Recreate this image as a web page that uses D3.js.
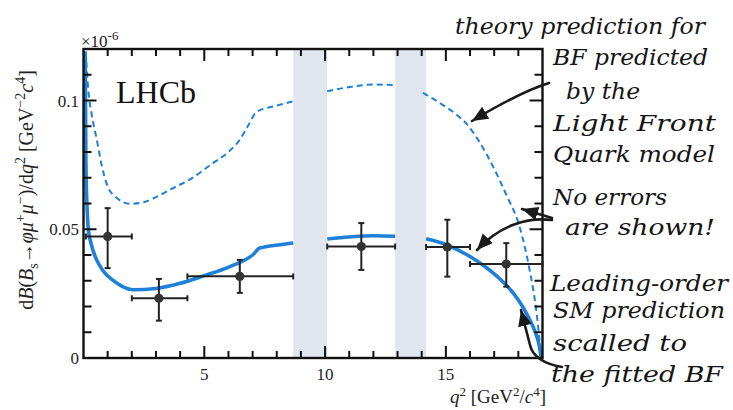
<!DOCTYPE html>
<html><head><meta charset="utf-8">
<script src="https://cdn.jsdelivr.net/npm/d3@7"></script>
<style>body{margin:0;background:#fff}svg{display:block}</style>
</head><body>
<svg id="c" width="733" height="410"></svg>
<script>
// ---------- data ----------
const binLo   = [0.1, 2.0, 4.3, 10.09, 14.18, 16.0];
const binHi   = [2.0, 4.3, 8.68, 12.9, 16.0, 19.0];
const binX    = [1.0, 3.12, 6.47, 11.5, 15.06, 17.5];
const dataVal = [0.0472, 0.0232, 0.0317, 0.0433, 0.0431, 0.0365];
const errUp   = [0.0110, 0.0075, 0.0064, 0.0091, 0.0106, 0.0081];
const errDn   = [0.0123, 0.0087, 0.0064, 0.0091, 0.0115, 0.0088];

const vetoLo = [8.68, 12.9];
const vetoHi = [10.09, 14.18];

// leading-order SM prediction (solid), null = gap in veto region
const smQ2  = [0.07,0.1,0.15,0.2,0.3,0.55,0.8,1.2,1.6,2.05,3.0,4.0,5.0,6.06,7.0,7.3,8.13,8.68, null,
               10.09,11.0,12.0,12.9, null,
               14.18,15.02,16.0,16.5,17.0,17.5,18.0,18.4,18.7,18.85,18.95];
const smVal = [0.119,0.075,0.058,0.050,0.045,0.038,0.034,0.0303,0.0278,0.0265,0.027,0.029,0.032,0.0355,0.040,0.0427,0.044,0.0447, null,
               0.0462,0.0470,0.0475,0.0473, null,
               0.0463,0.0440,0.0394,0.0363,0.0327,0.0283,0.0225,0.0162,0.0100,0.0055,0.0];

// Light Front Quark model prediction (dashed)
const lfQ2  = [0.09,0.2,0.35,0.55,0.75,1.0,1.4,1.92,2.5,3.0,3.71,4.4,5.37,6.0,6.47,6.8,7.16,8.0,8.68, null,
               10.09,11.0,12.0,12.9, null,
               14.05,14.74,15.43,15.85,16.33,16.95,17.5,18.05,18.47,18.74,18.95];
const lfVal = [0.119,0.104,0.094,0.0848,0.075,0.0667,0.062,0.0599,0.0605,0.0625,0.066,0.0693,0.0758,0.080,0.0848,0.090,0.0955,0.098,0.0997, null,
               0.1036,0.1052,0.1062,0.1060, null,
               0.1030,0.0991,0.0946,0.0910,0.0848,0.0744,0.0634,0.051,0.034,0.0187,0.0];

const xMajor = [5, 10, 15];
const yMajor = [0, 0.05, 0.1];
const yMajorLabels = ["0", "0.05", "0.1"];

// ---------- layout ----------
const L = 83.5, R = 542.5, T = 49, B = 358;
const svg = d3.select("#c");
const x = d3.scaleLinear().domain([0, 19]).range([L, R]);
const y = d3.scaleLinear().domain([0, 0.12]).range([B, T]);
const blue = "#1f80d8";
const serif = "'Liberation Serif','Times New Roman',serif";
const hand = "'DejaVu Serif',serif";
const defs = svg.append("defs");

// veto bands
svg.append("g").selectAll("rect").data(vetoLo).join("rect")
  .attr("x",(d)=>x(d)).attr("y",T+1)
  .attr("width",(d,i)=>x(vetoHi[i])-x(d)).attr("height",B-T-2)
  .attr("fill","#e1e5ee");

// curves
const mk = (qs, vs) => qs.map((q,i)=>({q, v: vs[i]}));
const line = d3.line().defined(d=>d.q!==null && d.v!==null)
  .x(d=>x(d.q)).y(d=>y(d.v)).curve(d3.curveMonotoneX);
svg.append("path").attr("d", line(mk(lfQ2, lfVal)))
  .attr("fill","none").attr("stroke",blue).attr("stroke-width",2)
  .attr("stroke-dasharray","6,4");
svg.append("path").attr("d", line(mk(smQ2, smVal)))
  .attr("fill","none").attr("stroke",blue).attr("stroke-width",3.6);

// frame
svg.append("rect").attr("x",L).attr("y",T).attr("width",R-L).attr("height",B-T)
  .attr("fill","none").attr("stroke","#111").attr("stroke-width",2.4);

// ticks (inward, on all four sides) drawn as thin filled rectangles
const xMinor = d3.range(1,19).filter(v=>v%5!==0);
const yMinor = d3.range(1,12).map(v=>v/100).filter(v=>Math.abs(v-0.05)>1e-9 && Math.abs(v-0.1)>1e-9);
const xTicks = xMajor.map(v=>({v,len:12})).concat(xMinor.map(v=>({v,len:7})));
const yTicks = yMajor.slice(1).map(v=>({v,len:13})).concat(yMinor.map(v=>({v,len:8})));
const tk = svg.append("g").attr("fill","#111").attr("stroke","none");
tk.selectAll(".tb").data(xTicks).join("rect").attr("class","tb")
  .attr("x",d=>x(d.v)-1).attr("y",d=>B-d.len).attr("width",2).attr("height",d=>d.len);
tk.selectAll(".tt").data(xTicks).join("rect").attr("class","tt")
  .attr("x",d=>x(d.v)-1).attr("y",T).attr("width",2).attr("height",d=>d.len);
tk.selectAll(".tl").data(yTicks).join("rect").attr("class","tl")
  .attr("x",L).attr("y",d=>y(d.v)-1).attr("width",d=>d.len).attr("height",2);
tk.selectAll(".tr").data(yTicks).join("rect").attr("class","tr")
  .attr("x",d=>R-d.len).attr("y",d=>y(d.v)-1).attr("width",d=>d.len).attr("height",2);

// tick labels
svg.append("g").selectAll("text").data(xMajor).join("text")
  .attr("x",d=>x(d)).attr("y",380).attr("text-anchor","middle")
  .attr("font-family",serif).attr("font-size",17).attr("fill","#222").text(d=>d);
svg.append("g").selectAll("text").data(yMajor).join("text")
  .attr("x",79).attr("y",d=>y(d)).attr("dy","0.36em").attr("text-anchor","end")
  .attr("font-family",serif).attr("font-size",17).attr("fill","#222").text((d,i)=>yMajorLabels[i]);

// x10^-6
const mult = svg.append("text").attr("x",81).attr("y",47).attr("font-family",serif)
  .attr("font-size",17).attr("fill","#222");
mult.append("tspan").text("×10");
mult.append("tspan").attr("dy",-7).attr("font-size",13).text("-6");

// LHCb
svg.append("text").attr("x",116).attr("y",103).attr("font-family",serif)
  .attr("font-size",32).attr("fill","#111").text("LHCb");

// axis titles
const xTitle = svg.append("text").attr("x",546).attr("y",403).attr("text-anchor","end")
  .attr("font-family",serif).attr("font-size",19).attr("fill","#222");
xTitle.append("tspan").attr("font-style","italic").text("q");
xTitle.append("tspan").attr("dy",-7).attr("font-size",13).text("2");
xTitle.append("tspan").attr("dy",7).text(" [GeV");
xTitle.append("tspan").attr("dy",-7).attr("font-size",13).text("2");
xTitle.append("tspan").attr("dy",7).text("/");
xTitle.append("tspan").attr("font-style","italic").text("c");
xTitle.append("tspan").attr("dy",-7).attr("font-size",13).text("4");
xTitle.append("tspan").attr("dy",7).text("]");

const yTitle = svg.append("text").attr("transform","translate(33,190) rotate(-90)")
  .attr("text-anchor","middle").attr("font-family",serif).attr("font-size",20).attr("fill","#222");
const parts = [
  ["d",0,0],["B",1,0],["(",0,0],["B",1,0],["s",0,5,14],["→",0,-5],["φμ",1,0],
  ["+",0,-8,14],["μ",1,8],["−",0,-8,14],[")/d",0,8],["q",1,0],["2",0,-8,14],
  [" [GeV",0,8],["−2",0,-8,14],["c",1,8],["4",0,-8,14],["]",0,8]
];
parts.forEach(([t,it,dy,fs])=>{
  const s = yTitle.append("tspan").text(t);
  if(it) s.attr("font-style","italic");
  if(dy) s.attr("dy",dy);
  if(fs) s.attr("font-size",fs);
});

// data points with error bars
const pts = svg.append("g").attr("stroke","#222").attr("stroke-width",2);
binX.forEach((bx,i)=>{
  const cx = x(bx), cy = y(dataVal[i]);
  const x0 = x(binLo[i]), x1 = x(binHi[i]);
  const yU = y(dataVal[i]+errUp[i]), yD = y(dataVal[i]-errDn[i]);
  pts.append("line").attr("x1",x0).attr("x2",x1).attr("y1",cy).attr("y2",cy);
  pts.append("line").attr("x1",cx).attr("x2",cx).attr("y1",yU).attr("y2",yD);
  pts.append("line").attr("x1",cx-3).attr("x2",cx+3).attr("y1",yU).attr("y2",yU);
  pts.append("line").attr("x1",cx-3).attr("x2",cx+3).attr("y1",yD).attr("y2",yD);
  pts.append("line").attr("x1",x0).attr("x2",x0).attr("y1",cy-3).attr("y2",cy+3);
  pts.append("line").attr("x1",x1).attr("x2",x1).attr("y1",cy-3).attr("y2",cy+3);
  pts.append("circle").attr("cx",cx).attr("cy",cy).attr("r",4.6).attr("fill","#333").attr("stroke","none");
});

// handwritten annotations
const notes = [
  ["theory prediction for", 455, 34, 250],
  ["BF predicted", 553, 65, 155],
  ["by the", 566, 99, 74],
  ["Light Front", 553, 131, 163],
  ["Quark model", 553, 162, 162],
  ["No errors", 553, 205, 114],
  ["are shown!", 565, 235, 150],
  ["Leading-order", 550, 291, 178],
  ["SM prediction", 553, 318, 172],
  ["scalled to", 553, 351, 134],
  ["the fitted BF", 551, 382, 172]
];
svg.append("g").selectAll("text").data(notes).join("text")
  .attr("x",d=>d[1]).attr("y",d=>d[2]).attr("textLength",d=>d[3])
  .attr("lengthAdjust","spacingAndGlyphs")
  .attr("font-family",hand).attr("font-style","italic").attr("font-size",22)
  .attr("fill","#151515").text(d=>d[0]);

// hand-drawn arrows
defs.append("marker").attr("id","ah").attr("markerUnits","userSpaceOnUse")
  .attr("markerWidth",22).attr("markerHeight",18).attr("refX",16).attr("refY",7)
  .attr("orient","auto").append("path").attr("d","M0,0 L16,7 L0,14 Z").attr("fill","#1a1a1a");
const arrows = [
  "M549,83 Q520,92 472,121",
  "M552,218 L522,209",
  "M552,220 C528,217 500,225 477,250",
  "M562,367 C545,364 533,358 530,345 L521,310"
];
svg.append("g").selectAll("path").data(arrows).join("path")
  .attr("d",d=>d).attr("fill","none").attr("stroke","#1a1a1a").attr("stroke-width",2.6)
  .attr("stroke-linecap","round").attr("marker-end","url(#ah)");
</script>
</body></html>
